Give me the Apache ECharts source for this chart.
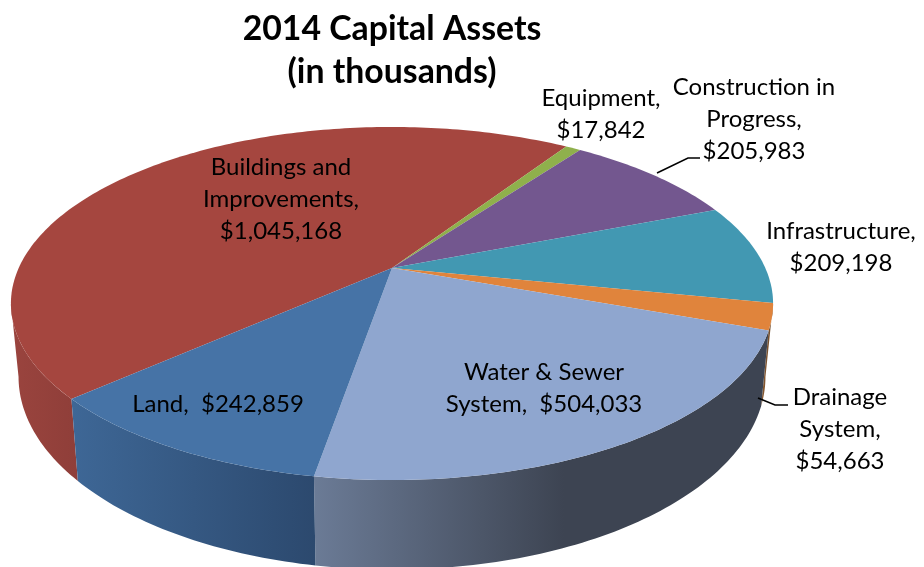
<!DOCTYPE html>
<html>
<head>
<meta charset="utf-8">
<title>2014 Capital Assets</title>
<style>
  html, body { margin: 0; padding: 0; background: #fff; }
  #main { width: 924px; height: 567px; }
</style>
<script src="https://cdn.jsdelivr.net/npm/echarts@6/dist/echarts.min.js"></script>
</head>
<body>
<div id="main"></div>
<script>
// slices run clockwise on screen, starting at the Buildings slice
const categories = [
  "Buildings and\nImprovements,",
  "Equipment,",
  "Construction in\nProgress,",
  "Infrastructure,",
  "Drainage\nSystem,",
  "Water & Sewer\nSystem,",
  "Land,"
];
const values = [1045168, 17842, 205983, 209198, 54663, 504033, 242859];
const valueSeparators = ["\n", "\n", "\n", "\n", "\n", "  ", "  "];
const topColors = ["#a5463f", "#8fb04c", "#73578f", "#4298b2", "#e0843c", "#8fa6cf", "#4673a6"];
const wallColors = [
  ["#9a443e", "#8f3e39"],
  ["#7a9440", "#7a9440"],
  ["#5f4878", "#5f4878"],
  ["#357f96", "#357f96"],
  ["#8a5a30", "#6e4a2a"],
  ["#6b7b96", "#3d4452"],
  ["#3e6796", "#2c496e"]
];
const labelCenters = [
  [281, 199], [601, 114], [754, 119], [841, 247], [840, 429], [544, 388], [218, 404]
];
const leaderLines = {
  2: [[657, 173], [688, 158], [700, 158]],
  4: [[758, 398], [775, 405], [788, 405]]
};

const total = values.reduce(function (a, b) { return a + b; }, 0);
const START_DEG = 138;
const apex = [392, 268];
// flat disc seen in perspective: the centre of the circle lands above the ellipse centre
const persp = { a: 373.3, b: 169.4, k: 0.2011 };
const wall = { sx: 0.98, sy: 1.092, dy: 70 };
// where the rim turns away from the viewer, the wall ends
const WALL_FROM = Math.asin(persp.k) * 180 / Math.PI;
const WALL_TO = 180 - WALL_FROM;

function rimPoint(deg, lower) {
  var t = deg * Math.PI / 180;
  var w = 1 - persp.k * Math.sin(t);
  var x = persp.a * Math.cos(t) / w;
  var y = persp.b * Math.sin(t) / w;
  if (lower) {
    return [apex[0] + wall.sx * x, apex[1] + wall.dy + wall.sy * y];
  }
  return [apex[0] + x, apex[1] + y];
}

function arc(from, to, lower) {
  var pts = [];
  var n = Math.max(1, Math.ceil(Math.abs(to - from)));
  for (var i = 0; i <= n; i++) {
    pts.push(rimPoint(from + (to - from) * i / n, lower));
  }
  return pts;
}

function sliceRange(index) {
  var before = 0;
  for (var i = 0; i < index; i++) before += values[i];
  return [
    START_DEG + before / total * 360,
    START_DEG + (before + values[index]) / total * 360
  ];
}

function wallRange(range) {
  var shifts = [0, -360];
  for (var i = 0; i < shifts.length; i++) {
    var from = Math.max(range[0] + shifts[i], WALL_FROM);
    var to = Math.min(range[1] + shifts[i], WALL_TO);
    if (to > from) return [from, to];
  }
  return null;
}

function renderSlice(params, api) {
  var i = params.dataIndex;
  var range = sliceRange(i);
  var children = [];

  var visible = wallRange(range);
  if (visible) {
    children.push({
      type: "polygon",
      z2: 1,
      shape: { points: arc(visible[0], visible[1], false).concat(arc(visible[1], visible[0], true)) },
      style: {
        fill: new echarts.graphic.LinearGradient(0, 0, 1, 0, [
          { offset: 0, color: wallColors[i][0] },
          { offset: i === 5 ? 0.55 : 1, color: wallColors[i][1] },
          { offset: 1, color: wallColors[i][1] }
        ])
      }
    });
  }

  children.push({
    type: "polygon",
    z2: 2,
    shape: { points: [apex].concat(arc(range[0], range[1], false)) },
    style: { fill: topColors[i] }
  });

  if (leaderLines[i]) {
    children.push({
      type: "polyline",
      z2: 3,
      shape: { points: leaderLines[i] },
      style: { stroke: "#000", lineWidth: 1.5, fill: null }
    });
  }

  children.push({
    type: "text",
    z2: 4,
    x: labelCenters[i][0],
    y: labelCenters[i][1],
    style: {
      text: categories[i] + valueSeparators[i] + "$" + api.value(0).toLocaleString("en-US"),
      font: "24px Lato",
      lineHeight: 32,
      fill: "#000",
      align: "center",
      verticalAlign: "middle"
    }
  });

  return { type: "group", children: children };
}

const options = {
  animation: false,
  backgroundColor: "#fff",
  title: {
    text: "2014 Capital Assets\n(in thousands)",
    left: 387,
    top: 3,
    textAlign: "center",
    textStyle: {
      fontFamily: "Lato",
      fontWeight: "bold",
      fontSize: 33.8,
      lineHeight: 43,
      color: "#000"
    }
  },
  series: [
    {
      type: "custom",
      coordinateSystem: "none",
      renderItem: renderSlice,
      data: values.map(function (v) { return [v]; })
    }
  ]
};

var myChart = echarts.init(document.querySelector("#main"));
myChart.setOption(options);
window.onresize = function () {
  myChart.resize();
};
</script>
</body>
</html>
